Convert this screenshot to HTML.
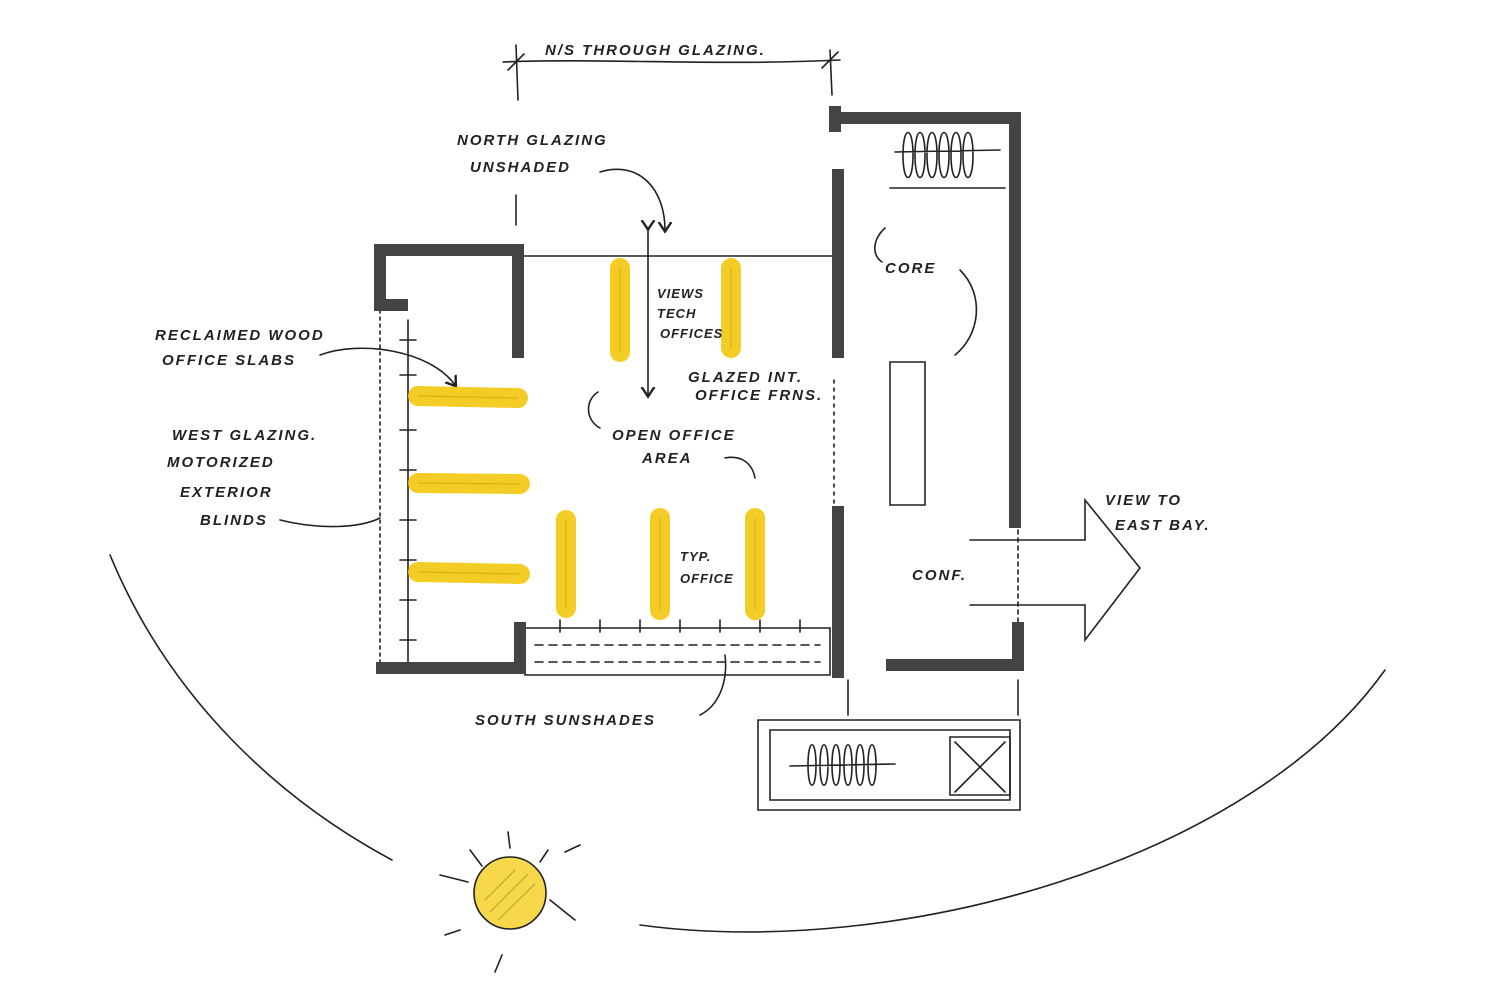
<!DOCTYPE html>
<html><head><meta charset="utf-8"><style>
html,body{margin:0;padding:0;background:#fff;}
svg{display:block}
text{font-family:"Liberation Sans",sans-serif;font-size:15px;font-weight:bold;fill:#222;letter-spacing:2px;font-style:italic}
</style></head><body>
<svg width="1500" height="1000" viewBox="0 0 1500 1000" xmlns="http://www.w3.org/2000/svg">
<defs><marker id="ah" markerWidth="10" markerHeight="10" refX="5" refY="5" orient="auto"><path d="M0,1 L6,5 L0,9" fill="none" stroke="#222" stroke-width="1.5"/></marker></defs>
<g fill="none" stroke="#222" stroke-width="1.6" stroke-linecap="round">
<path d="M503,62 C600,58 720,66 840,60"/>
<path d="M516,45 L518,100 M830,50 L832,95 M508,70 L524,54 M822,68 L838,52"/>
<path d="M600,172 C640,160 665,190 665,230" marker-end="url(#ah)"/>
<path d="M516,195 L516,225"/>
<path d="M648,228 L648,395" marker-end="url(#ah)" marker-start="url(#ah)"/>
<path d="M320,355 C360,340 430,350 455,385" marker-end="url(#ah)"/>
<path d="M280,520 C320,530 360,528 380,518"/>
<path d="M598,392 C585,400 585,420 600,428"/>
<path d="M725,458 C740,455 752,462 755,478"/>
<path d="M885,228 C872,240 872,255 882,262"/>
<path d="M960,270 C985,295 980,335 955,355"/>
<path d="M700,715 C720,705 728,680 725,655"/>
<path d="M520,256 L836,256"/>
<path d="M380,310 L380,665" stroke-dasharray="3,4"/>
<path d="M408,320 L408,662"/>
<path d="M400,340 H416 M400,375 H416 M400,430 H416 M400,470 H416 M400,520 H416 M400,560 H416 M400,600 H416 M400,640 H416"/>
<path d="M834,380 L834,505" stroke-dasharray="3,5"/>
<path d="M525,628 L830,628 L830,675 L525,675 Z"/>
<path d="M535,645 L820,645 M535,662 L820,662" stroke-dasharray="8,6"/>
<path d="M560,620 v12 M600,620 v12 M640,620 v12 M680,620 v12 M720,620 v12 M760,620 v12 M800,620 v12"/>
<path d="M890,122 L1005,122 M890,188 L1005,188"/>
<path d="M903,155 C903,125 913,125 913,155 C913,185 903,185 903,155 M915,155 C915,125 925,125 925,155 C925,185 915,185 915,155 M927,155 C927,125 937,125 937,155 C937,185 927,185 927,155 M939,155 C939,125 949,125 949,155 C949,185 939,185 939,155 M951,155 C951,125 961,125 961,155 C961,185 951,185 951,155 M963,155 C963,125 973,125 973,155 C973,185 963,185 963,155 M895,152 L1000,150"/>
<path d="M890,362 L925,362 L925,505 L890,505 Z"/>
<path d="M1018,530 L1018,625" stroke-dasharray="4,4"/>
<path d="M970,540 L1085,540 L1085,500 L1140,568 L1085,640 L1085,605 L970,605"/>
<path d="M848,680 L848,715 M1018,680 L1018,715"/>
<path d="M758,720 L1020,720 L1020,810 L758,810 Z M770,730 L1010,730 L1010,800 L770,800 Z"/>
<path d="M950,737 L1010,737 L1010,795 L950,795 Z M955,742 L1005,792 M1005,742 L955,792"/>
<path d="M808,765 C808,738 816,738 816,765 C816,792 808,792 808,765 M820,765 C820,738 828,738 828,765 C828,792 820,792 820,765 M832,765 C832,738 840,738 840,765 C840,792 832,792 832,765 M844,765 C844,738 852,738 852,765 C852,792 844,792 844,765 M856,765 C856,738 864,738 864,765 C864,792 856,792 856,765 M868,765 C868,738 876,738 876,765 C876,792 868,792 868,765 M790,766 L895,764"/>
<path d="M110,555 C170,700 280,800 392,860"/>
<path d="M640,925 C900,960 1250,860 1385,670"/>
<path d="M440,875 L468,882 M470,850 L482,866 M508,832 L510,848 M548,850 L540,862 M580,845 L565,852 M550,900 L575,920 M445,935 L460,930 M495,972 L502,955"/>
</g>
<g fill="none" stroke="#444" stroke-width="12" stroke-linecap="square">
<path d="M380,300 L380,250 L518,250 L518,352"/>
<path d="M380,305 L402,305"/>
<path d="M382,668 L520,668 L520,628"/>
<path d="M838,175 L838,352 M838,512 L838,672"/>
<path d="M835,118 L1015,118 L1015,522"/>
<path d="M835,112 L835,126"/>
<path d="M892,665 L1018,665 L1018,628"/>
</g>
<g stroke="#f2c80f" stroke-width="20" stroke-linecap="round" opacity="0.9">
<path d="M418,396 L518,398 M418,483 L520,484 M418,572 L520,574"/>
<path d="M620,268 L620,352 M731,268 L731,348 M566,520 L566,608 M660,518 L660,610 M755,518 L755,610"/>
</g>
<g stroke="#c9a000" stroke-width="1.2" opacity="0.6">
<path d="M418,396 L518,398 M418,483 L520,484 M418,572 L520,574 M620,268 L620,352 M731,268 L731,348 M566,520 L566,608 M660,518 L660,610 M755,518 L755,610"/>
</g>
<circle cx="510" cy="893" r="36" fill="#f7d84a" stroke="#222" stroke-width="1.6"/>
<g stroke="#8a7a20" stroke-width="1" opacity="0.6"><path d="M485,900 L515,870 M490,912 L528,874 M498,920 L535,884"/></g>
<text x="545" y="55">N/S THROUGH GLAZING.</text>
<text x="457" y="145">NORTH GLAZING</text>
<text x="470" y="172">UNSHADED</text>
<text x="155" y="340">RECLAIMED WOOD</text>
<text x="162" y="365">OFFICE SLABS</text>
<text x="172" y="440">WEST GLAZING.</text>
<text x="167" y="467">MOTORIZED</text>
<text x="180" y="497">EXTERIOR</text>
<text x="200" y="525">BLINDS</text>
<text x="657" y="298" style="font-size:13px;letter-spacing:1px">VIEWS</text>
<text x="657" y="318" style="font-size:13px;letter-spacing:1px">TECH</text>
<text x="660" y="338" style="font-size:13px;letter-spacing:1px">OFFICES</text>
<text x="688" y="382">GLAZED INT.</text>
<text x="695" y="400">OFFICE FRNS.</text>
<text x="612" y="440">OPEN OFFICE</text>
<text x="642" y="463">AREA</text>
<text x="680" y="561" style="font-size:13px;letter-spacing:1px">TYP.</text>
<text x="680" y="583" style="font-size:13px;letter-spacing:1px">OFFICE</text>
<text x="885" y="273">CORE</text>
<text x="912" y="580">CONF.</text>
<text x="1105" y="505">VIEW TO</text>
<text x="1115" y="530">EAST BAY.</text>
<text x="475" y="725">SOUTH SUNSHADES</text>
</svg>
</body></html>
